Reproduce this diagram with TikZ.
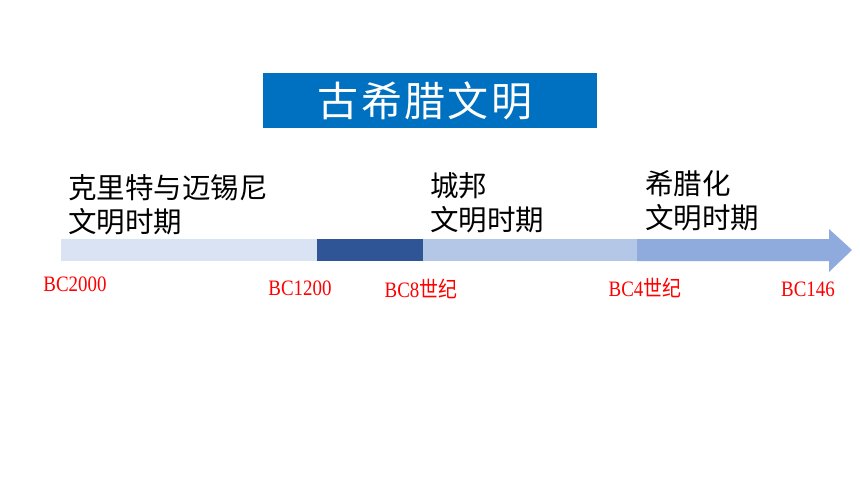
\documentclass[tikz,border=0pt]{standalone}
\usepackage{fontspec}
\usepackage{graphicx}
\setmainfont{Liberation Serif}
\newfontfamily\cjk{Noto Sans CJK SC}
\newfontfamily\cjktitle[LetterSpace=6]{Noto Sans CJK SC}
\usetikzlibrary{shapes.arrows}
\definecolor{titleblue}{HTML}{0070C0}
\definecolor{segA}{HTML}{DAE3F3}
\definecolor{segB}{HTML}{2F5597}
\definecolor{segC}{HTML}{B4C7E7}
\definecolor{segD}{HTML}{8FAADC}
\definecolor{labred}{HTML}{FF0000}
\tikzset{
  era/.style={anchor=west, align=left, font=\cjk\fontsize{28.5}{34}\selectfont, text=black, inner sep=0pt},
  datelab/.style={text=labred, font=\fontsize{22}{24}\selectfont, inner sep=0pt},
}
\newcommand{\zh}[1]{{\cjk #1}}
\newcommand{\dlab}[1]{\scalebox{0.86}[1]{#1}}
\begin{document}
\begin{tikzpicture}[x=1pt,y=-1pt]
\useasboundingbox (0,0) rectangle (860,484);
\fill[white] (0,0) rectangle (860,484);
% title
\node[fill=titleblue, minimum width=334pt, minimum height=55pt, inner sep=0pt, text=white,
      font=\cjktitle\fontsize{41}{48}\selectfont] (title) at (430,100.5) {古希腊文明\kern10pt};
% bar segments
\fill[segA] (61,239) rectangle (317,261);
\fill[segB] (317,239) rectangle (423,261);
\fill[segC] (423,239) rectangle (637,261);
\fill[segD] (637,239) -- (829,239) -- (829,229) -- (852,250) -- (829,272) -- (829,261) -- (637,261) -- cycle;
% era labels
\node[era] (e1) at (68,205) {克里特与迈锡尼\\文明时期};
\node[era] (e2) at (430,203) {城邦\\文明时期};
\node[era] (e3) at (645,201) {希腊化\\文明时期};
% dates
\node[datelab] (d1) at (75,284) {\dlab{BC2000}};
\node[datelab] (d2) at (300,288) {\dlab{BC1200}};
\node[datelab] (d3) at (421,289) {\dlab{BC8\zh{世纪}}};
\node[datelab] (d4) at (645,288) {\dlab{BC4\zh{世纪}}};
\node[datelab] (d5) at (808,289) {\dlab{BC146}};
\end{tikzpicture}
\end{document}
